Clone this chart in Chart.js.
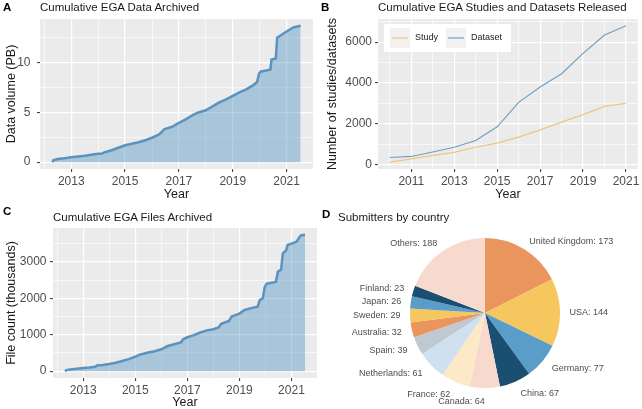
<!DOCTYPE html>
<html>
<head>
<meta charset="utf-8">
<script src="https://cdn.jsdelivr.net/npm/chart.js@4"></script>
<style>
body { margin: 0; background: #fff; font-family: "Liberation Sans", Arial, sans-serif; }
#wrap { position: relative; width: 642px; height: 409px; overflow: hidden; }
canvas, .t { position: absolute; }
.t { white-space: nowrap; color: #1a1a1a; font-size: 11.5px; line-height: 12px; }
.p { font-weight: bold; font-size: 11.5px; color: #000; }
</style>
</head>
<body>
<div id="wrap">
  <canvas id="cA" width="321" height="205" style="left:0;top:0"></canvas>
  <canvas id="cB" width="321" height="205" style="left:321px;top:0"></canvas>
  <canvas id="cC" width="321" height="204" style="left:0;top:205px"></canvas>
  <canvas id="cD" width="321" height="204" style="left:321px;top:205px"></canvas>
  <div class="t p" style="left:3px;top:1px">A</div>
  <div class="t" style="left:40px;top:1px">Cumulative EGA Data Archived</div>
  <div class="t p" style="left:321px;top:1px">B</div>
  <div class="t" style="left:378px;top:1px">Cumulative EGA Studies and Datasets Released</div>
  <div class="t p" style="left:3px;top:205px">C</div>
  <div class="t" style="left:53px;top:211px">Cumulative EGA Files Archived</div>
  <div class="t p" style="left:322px;top:208px">D</div>
  <div class="t" style="left:338px;top:211px">Submitters by country</div>
</div>
<script>
// ---- data ----
// A: cumulative data volume (PB)
var volYears = [2012.30, 2012.33, 2012.5, 2012.75, 2013.0, 2013.25, 2013.5, 2013.75, 2014.0, 2014.15, 2014.25, 2014.5,
  2014.75, 2015.0, 2015.25, 2015.5, 2015.75, 2016.0, 2016.25, 2016.35, 2016.45, 2016.75, 2017.0, 2017.25, 2017.5,
  2017.6, 2017.75, 2018.0, 2018.25, 2018.5, 2018.75, 2019.0, 2019.25, 2019.5, 2019.75, 2019.9, 2019.98, 2020.05,
  2020.25, 2020.4, 2020.44, 2020.6, 2020.65, 2020.72, 2020.8, 2021.0, 2021.25, 2021.52];
var volValues = [0.0, 0.2, 0.32, 0.4, 0.5, 0.58, 0.65, 0.75, 0.85, 0.88, 1.0, 1.2,
  1.45, 1.7, 1.85, 2.0, 2.2, 2.45, 2.75, 3.0, 3.3, 3.55, 3.95, 4.3, 4.7,
  4.85, 5.0, 5.2, 5.6, 6.0, 6.3, 6.65, 7.0, 7.3, 7.7, 8.0, 8.9, 9.1,
  9.2, 9.3, 10.3, 10.4, 12.5, 12.6, 12.75, 13.1, 13.5, 13.67];

// B: studies / datasets released per year (cumulative)
var relYears = [2010, 2011, 2012, 2013, 2014, 2015, 2016, 2017, 2018, 2019, 2020, 2021];
var studyCounts = [120, 280, 450, 600, 850, 1050, 1350, 1700, 2080, 2450, 2850, 3000];
var datasetCounts = [350, 400, 620, 850, 1180, 1850, 3050, 3800, 4450, 5450, 6350, 6800];

// C: cumulative files (thousands)
var fileYears = [2012.30, 2012.35, 2012.5, 2012.75, 2013.0, 2013.25, 2013.45, 2013.55, 2013.75, 2014.0, 2014.25, 2014.5,
  2014.75, 2015.0, 2015.2, 2015.5, 2015.75, 2016.0, 2016.25, 2016.5, 2016.75, 2016.85, 2017.0, 2017.25, 2017.5,
  2017.75, 2018.0, 2018.2, 2018.3, 2018.6, 2018.7, 2019.0, 2019.2, 2019.45, 2019.7, 2019.78, 2019.9, 2019.97,
  2020.05, 2020.4, 2020.48, 2020.6, 2020.67, 2020.8, 2020.85, 2021.0, 2021.2, 2021.3, 2021.38, 2021.52];
var fileValues = [0, 30, 45, 65, 85, 100, 120, 160, 170, 195, 230, 280,
  330, 400, 460, 510, 545, 600, 690, 740, 790, 880, 930, 990, 1060,
  1120, 1150, 1200, 1300, 1380, 1500, 1580, 1680, 1730, 1770, 1950, 2000, 2300,
  2400, 2450, 2730, 2780, 3230, 3320, 3460, 3500, 3550, 3670, 3730, 3740];

// D: submitters by country
var countries = ['United Kingdom', 'USA', 'Germany', 'China', 'Canada', 'France', 'Netherlands',
  'Spain', 'Australia', 'Sweden', 'Japan', 'Finland', 'Others'];
var submitters = [173, 144, 77, 67, 64, 62, 61, 39, 32, 29, 26, 23, 188];
var pieColors = ['#e9955d', '#f5c75e', '#5b9dc9', '#1b4f72', '#f7dacd', '#fde8c7', '#cfe1ee',
  '#c0c9d1', '#e9955d', '#f5c75e', '#5b9dc9', '#1b4f72', '#f7dacd'];

// tick labels
var yearTicks = [2013, 2015, 2017, 2019, 2021];
var yearTicksB = [2011, 2013, 2015, 2017, 2019, 2021];
var volTicks = [0, 5, 10];
var relTicks = [0, 2000, 4000, 6000];
var fileTicks = [0, 1000, 2000, 3000];

Chart.defaults.font.family = '"Liberation Sans", Arial, sans-serif';
Chart.defaults.animation = false;
Chart.defaults.events = [];

// grey ggplot-like panel
var panelBg = {
  id: 'panelBg',
  beforeDraw: function (chart) {
    var a = chart.chartArea, ctx = chart.ctx;
    ctx.save();
    ctx.fillStyle = '#ebebeb';
    ctx.fillRect(a.left, a.top, a.right - a.left, a.bottom - a.top);
    ctx.restore();
  }
};

function expand(lo, hi) {
  var d = (hi - lo) * 0.05;
  return [lo - d, hi + d];
}

function points(xs, ys) {
  return xs.map(function (x, i) { return { x: x, y: ys[i] }; });
}

// axis with major labelled ticks and unlabelled minor grid lines halfway between
function axis(range, major, size, title, titlePad, ticksPad) {
  var step = major[1] - major[0];
  var all = [];
  for (var v = major[0] - step; v <= range[1]; v += step / 2) {
    if (v >= range[0]) all.push(v);
  }
  var isMajor = function (v) { return major.some(function (m) { return Math.abs(m - v) < 1e-6; }); };
  var horizontal = title === 'Year';
  return {
    type: 'linear',
    min: range[0],
    max: range[1],
    afterBuildTicks: function (s) { s.ticks = all.map(function (v) { return { value: v }; }); },
    afterFit: function (s) { if (horizontal) s.height = size; else s.width = size; },
    ticks: {
      autoSkip: false, maxRotation: 0, padding: ticksPad, color: '#4d4d4d', font: { size: 12 },
      callback: function (v) { return isMajor(v) ? String(Math.round(v)) : ''; }
    },
    grid: {
      color: '#ffffff',
      lineWidth: function (c) { return c.tick && isMajor(c.tick.value) ? 1.2 : 0.6; },
      tickLength: 3,
      tickWidth: 1,
      tickColor: function (c) { return c.tick && isMajor(c.tick.value) ? '#333333' : 'rgba(0,0,0,0)'; }
    },
    border: { display: false },
    title: { display: true, text: title, color: '#1a1a1a', font: { size: 12.5 }, padding: titlePad }
  };
}

function areaChart(id, xs, ys, yMajor, yTitle, yWidth, xHeight, pad, xTitlePad, yTickPad) {
  var xr = expand(xs[0], xs[xs.length - 1]);
  var yr = expand(0, Math.max.apply(null, ys));
  return new Chart(document.getElementById(id), {
    type: 'line',
    data: {
      datasets: [{
        data: points(xs, ys),
        borderColor: '#5a93bf',
        borderWidth: 2.5,
        backgroundColor: 'rgba(70,140,190,0.4)',
        fill: 'origin',
        pointRadius: 0,
        tension: 0
      }]
    },
    options: {
      responsive: false,
      layout: { padding: pad },
      plugins: { legend: { display: false }, tooltip: { enabled: false } },
      scales: {
        x: axis(xr, yearTicks, xHeight, 'Year', { top: 0, bottom: xTitlePad }, 2.5),
        y: axis(yr, yMajor, yWidth, yTitle, { top: 4, bottom: 0 }, yTickPad)
      }
    },
    plugins: [panelBg]
  });
}

areaChart('cA', volYears, volValues, volTicks, 'Data volume (PB)', 40, 36,
  { top: 19, right: 8, bottom: 0, left: 0 }, 2.5, 6.5);
areaChart('cC', fileYears, fileValues, fileTicks, 'File count (thousands)', 53, 31,
  { top: 23, right: 4, bottom: 0, left: 0 }, -1.5, 3.5);

// legend in a white box inside the panel
var boxLegend = {
  id: 'boxLegend',
  afterDraw: function (chart, args, o) {
    var ctx = chart.ctx, a = chart.chartArea;
    var x0 = a.left + o.x, y0 = a.top + o.y;
    ctx.save();
    ctx.fillStyle = '#ffffff';
    ctx.fillRect(x0, y0, o.w, o.h);
    ctx.font = o.fontSize + 'px "Liberation Sans", Arial, sans-serif';
    ctx.textBaseline = 'middle';
    var x = x0 + o.pad, cy = y0 + o.h / 2;
    chart.data.datasets.forEach(function (ds) {
      ctx.fillStyle = '#f2f2f2';
      ctx.fillRect(x, cy - o.key / 2, o.key, o.key);
      ctx.strokeStyle = ds.borderColor;
      ctx.lineWidth = ds.borderWidth;
      ctx.beginPath();
      ctx.moveTo(x + 2, cy);
      ctx.lineTo(x + o.key - 2, cy);
      ctx.stroke();
      ctx.fillStyle = '#1a1a1a';
      ctx.fillText(ds.label, x + o.key + 5, cy);
      x += o.key + 5 + ctx.measureText(ds.label).width + o.gap;
    });
    ctx.restore();
  }
};

var relRange = expand(relYears[0], relYears[relYears.length - 1]);
new Chart(document.getElementById('cB'), {
  type: 'line',
  data: {
    datasets: [
      { label: 'Study', data: points(relYears, studyCounts), borderColor: '#f2c47f', borderWidth: 1.2, pointRadius: 0, tension: 0 },
      { label: 'Dataset', data: points(relYears, datasetCounts), borderColor: '#6f9fc4', borderWidth: 1.2, pointRadius: 0, tension: 0 }
    ]
  },
  options: {
    responsive: false,
    layout: { padding: { top: 19, right: 3, bottom: 0, left: 0 } },
    plugins: {
      legend: { display: false },
      tooltip: { enabled: false },
      boxLegend: { x: 6, y: 5, w: 127, h: 28, pad: 6, key: 20, gap: 8, fontSize: 9 }
    },
    scales: {
      x: axis(relRange, yearTicksB, 36, 'Year', { top: 0, bottom: 2.5 }, 2.5),
      y: axis(expand(studyCounts[0], datasetCounts[datasetCounts.length - 1]), relTicks, 57,
        'Number of studies/datasets', { top: 4, bottom: 0 }, 3)
    }
  },
  plugins: [panelBg, boxLegend]
});

// labels around the pie at each slice's mid angle
var pieLabels = {
  id: 'pieLabels',
  afterDatasetsDraw: function (chart, args, o) {
    var ctx = chart.ctx;
    var meta = chart.getDatasetMeta(0);
    var ds = chart.data.datasets[0];
    ctx.save();
    ctx.font = o.fontSize + 'px "Liberation Sans", Arial, sans-serif';
    ctx.fillStyle = o.color;
    ctx.textBaseline = 'middle';
    meta.data.forEach(function (arc, i) {
      var mid = (arc.startAngle + arc.endAngle) / 2;
      var r = arc.outerRadius + o.offset + o.lowerExtra * Math.max(0, Math.sin(mid));
      var x = arc.x + Math.cos(mid) * r;
      var y = arc.y + Math.sin(mid) * r;
      ctx.textAlign = Math.cos(mid) >= 0 ? 'left' : 'right';
      ctx.fillText(chart.data.labels[i] + ': ' + ds.data[i], x, y);
    });
    ctx.restore();
  }
};

new Chart(document.getElementById('cD'), {
  type: 'pie',
  data: {
    labels: countries,
    datasets: [{ data: submitters, backgroundColor: pieColors, borderWidth: 0, hoverOffset: 0, offset: 0 }]
  },
  options: {
    responsive: false,
    layout: { padding: { top: 33, right: 82, bottom: 21, left: 89 } },
    plugins: {
      legend: { display: false },
      tooltip: { enabled: false },
      pieLabels: { offset: 9.5, lowerExtra: 4, fontSize: 9, color: '#4d4d4d' }
    }
  },
  plugins: [pieLabels]
});
</script>
</body>
</html>
